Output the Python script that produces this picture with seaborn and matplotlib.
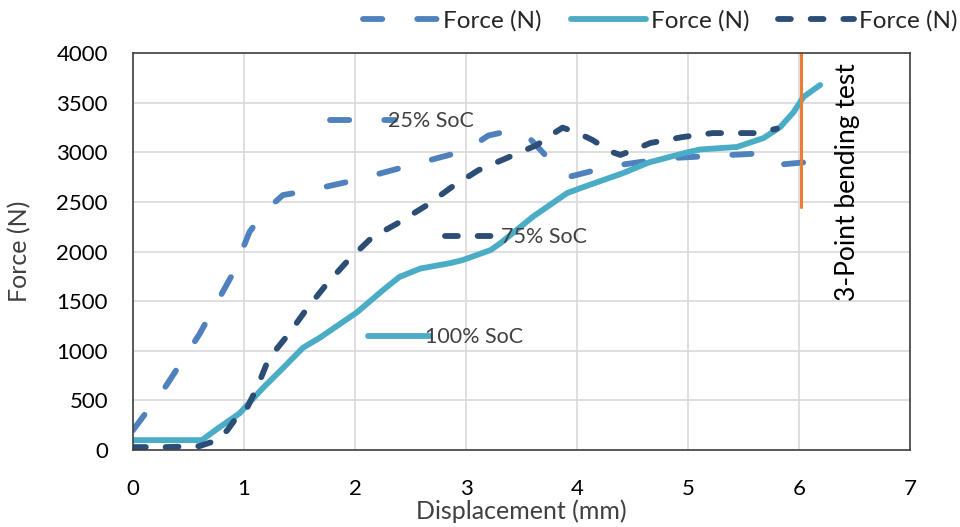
import numpy as np
import pandas as pd
import matplotlib
matplotlib.use("Agg")
import matplotlib.pyplot as plt
import seaborn as sns
from matplotlib.legend import Legend
from matplotlib.lines import Line2D

# 25% SoC
x25 = [0, 0.3, 0.6, 0.9, 1.05, 1.2, 1.35, 1.6, 2.0, 2.5, 3.0, 3.2, 3.4, 3.55,
       3.75, 3.95, 4.3, 4.8, 5.3, 5.65, 5.85, 6.05, 6.2, 6.3]
y25 = [200, 650, 1170, 1780, 2200, 2420, 2570, 2620, 2720, 2870, 3020, 3170,
       3220, 3170, 2930, 2760, 2860, 2940, 2970, 2990, 2880, 2900, 2980, 3000]

# 75% SoC
x75 = [0, 0.3, 0.6, 0.76, 0.85, 0.96, 1.03, 1.12, 1.21, 1.28, 1.41, 1.57, 1.75,
       1.94, 2.02, 2.15, 2.39, 2.65, 2.87, 3.11, 3.38, 3.64, 3.73, 3.87, 4.0,
       4.14, 4.3, 4.39, 4.5, 4.66, 4.95, 5.22, 5.51, 5.63, 5.8]
y75 = [30, 30, 40, 100, 200, 370, 430, 635, 885, 1000, 1180, 1430, 1680,
       1915, 2000, 2140, 2290, 2470, 2650, 2820, 2950, 3075, 3150, 3250, 3200,
       3125, 3010, 2975, 3020, 3095, 3155, 3195, 3195, 3195, 3240]

# 100% SoC
x100 = [0, 0.3, 0.62, 0.78, 0.96, 1.17, 1.35, 1.53, 1.68, 2.02, 2.25, 2.4,
        2.59, 2.86, 2.97, 3.22, 3.31, 3.6, 3.91, 4.03, 4.41, 4.65, 4.99, 5.11,
        5.44, 5.68, 5.83, 5.95, 6.04, 6.19]
y100 = [100, 100, 100, 230, 370, 625, 825, 1030, 1130, 1390, 1610, 1745,
        1830, 1885, 1915, 2015, 2085, 2350, 2590, 2640, 2790, 2900, 3000, 3030,
        3055, 3145, 3255, 3405, 3560, 3680]

# 3-point bending marker
xbend = [6.02, 6.02]
ybend = [2450, 4000]

c25 = "#4F81BD"
c100 = "#4BACC6"
c75 = "#2C4D75"
corange = "#ED7D31"

ls25 = (0, (3.3, 6.0))
ls75 = (0, (2.2, 3.4))

sns.set_theme(style="whitegrid")
plt.rcParams["font.family"] = ["Lato", "DejaVu Sans"]

fig = plt.figure(figsize=(9.6, 5.27), dpi=100)
ax = fig.add_axes([0.1385, 0.146, 0.8095, 0.753])

lw = 4.2
sns.lineplot(x=x25, y=y25, ax=ax, color=c25, linewidth=lw, sort=False,
             estimator=None, linestyle=ls25, dash_capstyle="round",
             label="Force (N)")
sns.lineplot(x=x100, y=y100, ax=ax, color=c100, linewidth=lw, sort=False,
             estimator=None, solid_capstyle="round", label="Force (N)")
sns.lineplot(x=x75, y=y75, ax=ax, color=c75, linewidth=lw, sort=False,
             estimator=None, linestyle=ls75, dash_capstyle="round",
             label="Force (N)")
sns.lineplot(x=xbend, y=ybend, ax=ax, color=corange, linewidth=2.2,
             sort=False, estimator=None)

ax.set_xlim(0, 7)
ax.set_ylim(0, 4000)
ax.set_xticks(range(0, 8))
ax.set_yticks(range(0, 4001, 500))
ax.tick_params(labelsize=16, colors="#000000", length=0)
ax.tick_params(axis="x", pad=21)
ax.tick_params(axis="y", pad=18)
ax.grid(True, color="#D9D9D9", linewidth=1.2)
for s in ax.spines.values():
    s.set_color("#404040")
    s.set_linewidth(1.2)

ax.set_xlabel("Displacement (mm)", fontsize=18, color="#404040")
ax.set_ylabel("Force (N)", fontsize=18, color="#404040")
ax.xaxis.set_label_coords(0.5, -0.153)
ax.xaxis.label.set_va("center")
ax.yaxis.set_label_coords(-0.1454, 0.5)
ax.yaxis.label.set_va("center")

handles, labels = ax.get_legend_handles_labels()
ax.legend(handles, labels, ncol=3, loc="center right", frameon=False,
          bbox_to_anchor=(0.997, 0.96), bbox_transform=fig.transFigure,
          fontsize=17.5, handlelength=3.1, handletextpad=0.2, columnspacing=1.2,
          borderpad=0, borderaxespad=0)

# data labels with legend keys
def key_label(text, color, ls, pos, hl, pad):
    h = Line2D([], [], color=color, linewidth=lw, linestyle=ls,
               dash_capstyle="round", solid_capstyle="round")
    lg = Legend(ax, [h], [text], loc="center left", bbox_to_anchor=pos,
                bbox_transform=ax.transAxes, frameon=False, fontsize=15.5,
                handlelength=hl, handletextpad=pad, borderpad=0,
                borderaxespad=0, labelcolor="#404040")
    ax.add_artist(lg)

key_label("25% SoC", c25, ls25, (0.2535, 0.829), 3.0, -0.3)
key_label("75% SoC", c75, ls75, (0.4015, 0.5365), 2.4, 0.2)
key_label("100% SoC", c100, "-", (0.3025, 0.2846), 2.9, -0.25)

ax.text(6.44, 2700, "3-Point bending test", rotation=90, ha="center",
        va="center", fontsize=19, color="#000000")

fig.savefig("out.png", dpi=100)
